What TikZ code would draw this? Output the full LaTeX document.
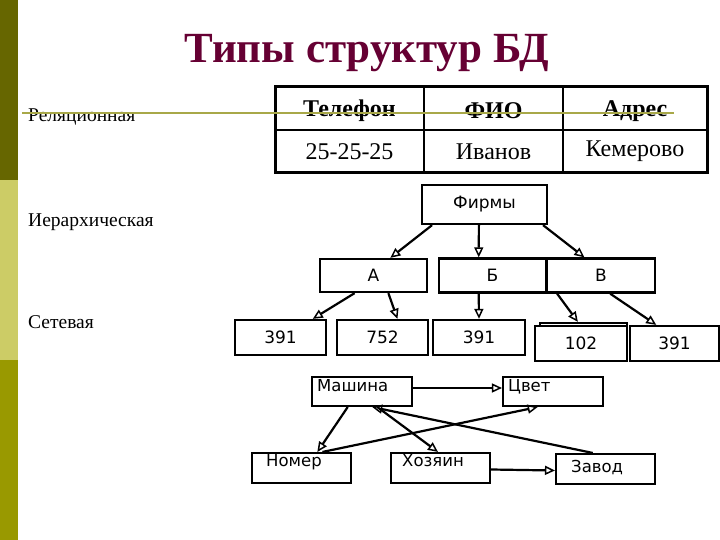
\documentclass[tikz,border=0pt]{standalone}
\usepackage{fontspec}
\setmainfont{Liberation Serif}
\newfontfamily\dv{DejaVu Sans}
\usetikzlibrary{arrows.meta,calc}
\definecolor{bardark}{HTML}{666600}
\definecolor{barlight}{HTML}{CCCC66}
\definecolor{barmid}{HTML}{999900}
\definecolor{titlec}{HTML}{660033}
\definecolor{rulec}{HTML}{A8A848}
\tikzset{
  hbox/.style={draw=black, line width=2.3pt, rectangle, inner sep=0pt, font=\dv\fontsize{17}{19}\selectfont},
  nbox/.style={draw=black, line width=2.1pt, rectangle, inner sep=0pt},
  ntext/.style={anchor=base west, inner sep=0pt, font=\dv\fontsize{16.5}{18}\selectfont},
  arr/.style={line width=2.2pt, -{Triangle[open,length=10pt,width=9pt,line width=1.5pt]}},
  side/.style={anchor=base west, inner sep=0pt, font=\fontsize{19.5}{21}\selectfont},
  cell/.style={inner sep=0pt, font=\fontsize{24}{26}\selectfont},
  hcell/.style={inner sep=0pt, font=\bfseries\fontsize{24}{26}\selectfont},
}
\begin{document}
\begin{tikzpicture}[x=1pt,y=-1pt]
\useasboundingbox (0,0) rectangle (720,540);
% left bar
\fill[bardark] (0,0) rectangle (18,180);
\fill[barlight] (0,180) rectangle (18,360);
\fill[barmid] (0,360) rectangle (18,540);
% title
\node[anchor=base, inner sep=0pt, text=titlec, font=\bfseries\fontsize{43}{46}\selectfont] (title) at (367,63) {Типы структур БД};
% side labels
\node[side] (l1) at (28,122) {Реляционная};
\node[side] (l2) at (28,226) {Иерархическая};
\node[side] (l3) at (28,328) {Сетевая};
% table
\draw[line width=1.6pt] (424,87) -- (424,173) (563,87) -- (563,173) (275,130) -- (707,130);
\draw[line width=3pt] (275,87) rectangle (707,173);
\node[hcell] (t11) at (349.5,111) {Телефон};
\node[hcell] (t12) at (493.5,111) {ФИО};
\node[hcell] (t13) at (635,111) {Адрес};
\node[cell] (t21) at (349.5,151.5) {25-25-25};
\node[cell] (t22) at (493.5,151.5) {Иванов};
\node[cell] (t23) at (635,151.5) {Кемерово};
% hierarchy
\node[hbox, minimum width=125pt, minimum height=39pt] (firm) at (484.5,204.5) {Фирмы};
\node[hbox, minimum width=107pt, minimum height=33pt] (A) at (373.5,275.5) {А};
\node[hbox, minimum width=107pt, minimum height=34pt] (B) at (492.5,275.5) {Б};
\node[hbox, minimum width=108pt, minimum height=34pt] (V) at (601,275.5) {В};
\node[hbox, minimum width=91pt, minimum height=35pt] (n1) at (280.5,337.5) {391};
\node[hbox, minimum width=91pt, minimum height=35pt] (n2) at (382.5,337.5) {752};
\node[hbox, minimum width=92pt, minimum height=35pt] (n3) at (479,337.5) {391};
\node[hbox, minimum width=87pt, minimum height=35pt] (n4b) at (583.5,340.5) {};
\node[hbox, fill=white, minimum width=92pt, minimum height=35pt] (n4) at (581,343.5) {102};
\node[hbox, minimum width=89pt, minimum height=35pt] (n5) at (674.5,343.5) {391};
\draw[arr] ($(firm.south west)!0.088!(firm.south east)$) -- ($(A.north west)!0.654!(A.north east)$);
\draw[arr] ($(firm.south west)!0.456!(firm.south east)$) -- ($(B.north west)!0.374!(B.north east)$);
\draw[arr] ($(firm.south west)!0.96!(firm.south east)$) -- ($(V.north west)!0.35!(V.north east)$);
\draw[arr] ($(A.south west)!0.327!(A.south east)$) -- ($(n1.north west)!0.846!(n1.north east)$);
\draw[arr] ($(A.south west)!0.636!(A.south east)$) -- ($(n2.north west)!0.66!(n2.north east)$);
\draw[arr] ($(B.south west)!0.374!(B.south east)$) -- ($(n3.north west)!0.5!(n3.north east)$);
\draw[arr] ($(V.south west)!0.102!(V.south east)$) -- ($(n4b.north west)!0.437!(n4b.north east)$);
\draw[arr] ($(V.south west)!0.583!(V.south east)$) -- ($(n5.north west)!0.30!(n5.north east)$);
% network
\node[nbox, minimum width=100pt, minimum height=29pt] (m) at (362,391.5) {};
\node[nbox, minimum width=100pt, minimum height=29pt] (c) at (553,391.5) {};
\node[nbox, minimum width=99pt, minimum height=30pt] (nm) at (301.5,468) {};
\node[nbox, minimum width=99pt, minimum height=30pt] (h) at (440.5,468) {};
\node[nbox, minimum width=99pt, minimum height=30pt] (z) at (605.5,469) {};
\node[ntext] (mt) at (317,391) {Машина};
\node[ntext] (ct) at (508,391) {Цвет};
\node[ntext] (nmt) at (266,466) {Номер};
\node[ntext] (ht) at (402,466) {Хозяин};
\node[ntext] (zt) at (571,472) {Завод};
\draw[arr] ([yshift=3.5pt]m.east) -- ([yshift=3.5pt]c.west);
\draw[arr] ($(m.south west)!0.36!(m.south east)$) -- ($(nm.north west)!0.657!(nm.north east)$);
\draw[arr] ($(nm.north west)!0.707!(nm.north east)$) -- ($(c.south west)!0.35!(c.south east)$);
\draw[arr] ($(m.south west)!0.65!(m.south east)$) -- ($(h.north west)!0.475!(h.north east)$);
\draw[arr] ($(z.north west)!0.374!(z.north east)$) -- ($(m.south west)!0.60!(m.south east)$);
\draw[arr] ([yshift=-1.5pt]h.east) -- ([yshift=-1.5pt]z.west);
% rule line
\draw[rulec, line width=1.4pt] (22,113) -- (674,113);
\end{tikzpicture}
\end{document}
